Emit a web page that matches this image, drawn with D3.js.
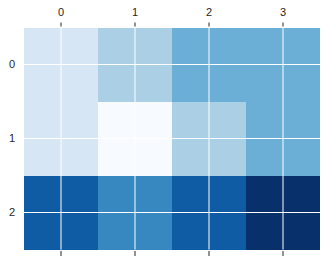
<!DOCTYPE html>
<html>
<head>
<meta charset="utf-8">
<script src="https://cdn.jsdelivr.net/npm/d3@7"></script>
<style>
body { margin: 0; background: white; }
text { font-family: "Liberation Sans", Arial, sans-serif; font-size: 11px; fill: #262626; }
</style>
</head>
<body>
<script>
const cols = [0, 1, 2, 3]
const rows = [0, 1, 2]
const values = [
    [1, 2, 3, 3],
    [1, 0, 2, 3],
    [5, 4, 5, 6]
]
const blues = ['#f7fbff', '#deebf7', '#c6dbef', '#9ecae1', '#6baed6', '#4292c6', '#2171b5', '#08519c', '#08306b']

const width = 333
const height = 263
const plotLeft = 24
const plotRight = 320
const plotTop = 27.5
const plotBottom = 249.5

const svg = d3.select('body').append('svg')
    .attr('width', width)
    .attr('height', height)

const x = d3.scaleBand().domain(cols).range([plotLeft, plotRight])
const y = d3.scaleBand().domain(rows).range([plotTop, plotBottom])
const color = d3.scaleLinear()
    .domain(blues.map((c, i) => 6 * i / (blues.length - 1)))
    .range(blues)

const cells = []
values.forEach((row, r) => row.forEach((v, c) => cells.push({r, c, v})))

svg.selectAll('rect.cell')
    .data(cells)
    .enter()
    .append('rect')
    .attr('class', 'cell')
    .attr('x', d => x(d.c))
    .attr('y', d => y(d.r))
    .attr('width', x.bandwidth())
    .attr('height', y.bandwidth())
    .attr('fill', d => color(d.v))
    .attr('shape-rendering', 'crispEdges')

// white grid at tick positions
svg.selectAll('line.vgrid')
    .data(cols)
    .enter()
    .append('line')
    .attr('x1', d => x(d) + x.bandwidth() / 2)
    .attr('x2', d => x(d) + x.bandwidth() / 2)
    .attr('y1', plotTop)
    .attr('y2', plotBottom)
    .attr('stroke', 'white')
    .attr('stroke-width', 1)

svg.selectAll('line.hgrid')
    .data(rows)
    .enter()
    .append('line')
    .attr('y1', d => y(d) + y.bandwidth() / 2)
    .attr('y2', d => y(d) + y.bandwidth() / 2)
    .attr('x1', plotLeft)
    .attr('x2', plotRight)
    .attr('stroke', 'white')
    .attr('stroke-width', 1)

// top axis
const xTop = svg.append('g').attr('transform', `translate(0,${plotTop - 1})`)
    .call(d3.axisTop(x).tickSize(4).tickPadding(7))
xTop.select('.domain').remove()
xTop.selectAll('line').attr('stroke', '#262626')

// bottom ticks, no labels
const xBot = svg.append('g').attr('transform', `translate(0,${plotBottom + 1.5})`)
    .call(d3.axisBottom(x).tickSize(5).tickFormat(''))
xBot.select('.domain').remove()
xBot.selectAll('line').attr('stroke', '#262626')

// left labels
const yAx = svg.append('g').attr('transform', `translate(${plotLeft},0)`)
    .call(d3.axisLeft(y).tickSize(0).tickPadding(9))
yAx.select('.domain').remove()

svg.selectAll('g').attr('font-size', null).attr('font-family', null)
svg.selectAll('.tick text').attr('fill', '#262626')
</script>
</body>
</html>
